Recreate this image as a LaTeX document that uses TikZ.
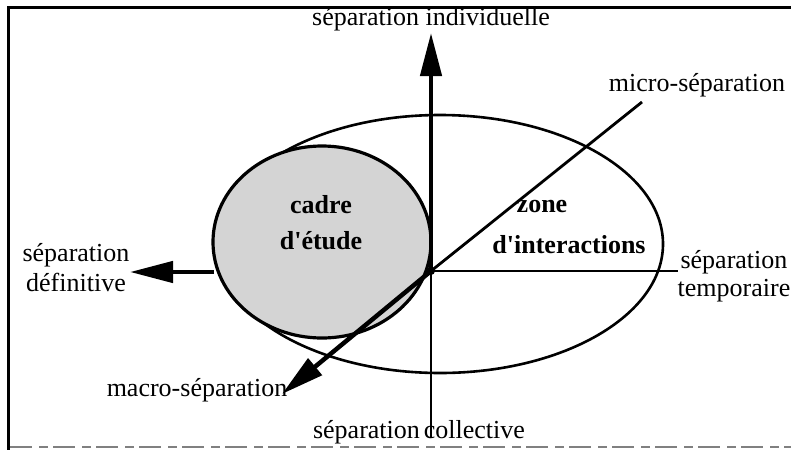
\documentclass[tikz,border=0pt]{standalone}
\usepackage{fontspec}
\setmainfont{Liberation Serif}
\usetikzlibrary{arrows.meta}
\begin{document}
\begin{tikzpicture}[x=1pt,y=-1pt,
  lbl/.style={font=\fontsize{26}{29}\selectfont, inner sep=0pt, align=center},
  blbl/.style={font=\bfseries\fontsize{26}{36}\selectfont, inner sep=0pt, align=center},
  bigarrow/.style={line width=4.5pt, -{Triangle[length=43pt,width=21pt]}},
  thinaxis/.style={line width=1.8pt},
  midaxis/.style={line width=2.8pt},
  frameline/.style={line width=3pt},
  outline/.style={line width=2.6pt},
  shade/.style={fill=black!17, line width=3.2pt}
]
\useasboundingbox (0,0) rectangle (791,450);
% frame
\draw[frameline] (791,7) -- (8,7) -- (8,450);
\draw[line width=2pt, black!50, dash pattern=on 22pt off 7pt on 9pt off 5pt] (10,447) -- (791,447);

% coordinates
\coordinate (O) at (431,271);
\coordinate (uptip) at (431,33);
\coordinate (lefttip) at (130,272);
\coordinate (leftstart) at (214,272);
\coordinate (diagtip) at (282,394);
\coordinate (microend) at (642,102);
\coordinate (rightend) at (678,271);
\coordinate (downend) at (431,437);

% big ellipse (zone d'interactions)
\draw[outline] (440,244) ellipse [x radius=223pt, y radius=129pt];

% thin axes
\draw[thinaxis] (O) -- (rightend);
\draw[thinaxis] (O) -- (downend);
\draw[midaxis] (O) -- (microend);

% cadre d'etude
\draw[shade] (322,242) ellipse [x radius=109pt, y radius=96pt];

% thick arrows
\draw[bigarrow] (O) -- (uptip);
\draw[bigarrow] (leftstart) -- (lefttip);
\draw[bigarrow] (O) -- (diagtip);
\fill (O) circle (4pt);

% labels
\node[lbl] (indiv) at (431,19) {séparation individuelle};
\node[lbl] (micro) at (697,85) {micro-séparation};
\node[blbl] (cadre) at (321,223) {cadre\\d\textquotesingle étude};
\node[blbl] (zone) at (542,206) {zone};
\node[blbl] (inter) at (569,245) {d\textquotesingle interactions};
\node[lbl, font=\fontsize{26}{30}\selectfont] (def) at (76,268) {séparation\\définitive};
\node[lbl, font=\fontsize{26}{28}\selectfont] (temp) at (734,276) {séparation\\temporaire};
\node[lbl] (macro) at (197,390) {macro-séparation};
\node[lbl] (coll) at (419,432) {séparation\hspace{4pt}collective};
\end{tikzpicture}
\end{document}
